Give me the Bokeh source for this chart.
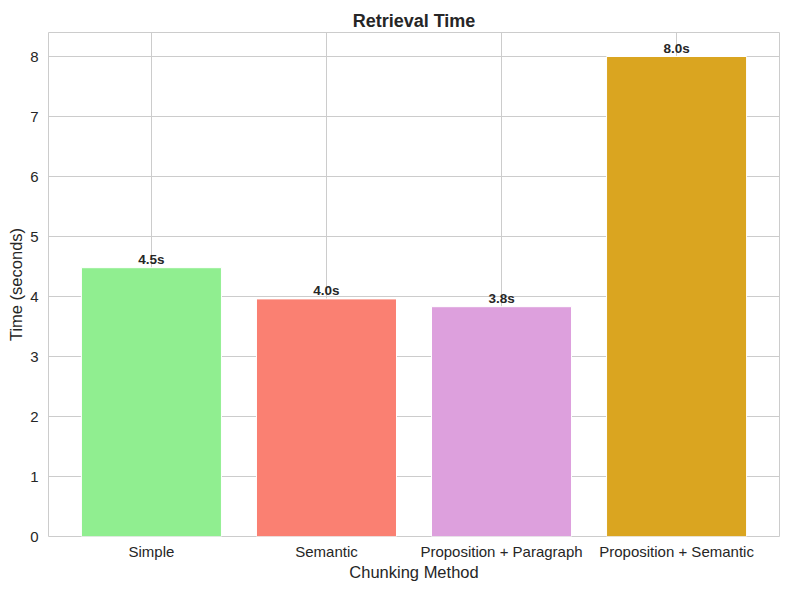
from bokeh.plotting import figure
from bokeh.models import FactorRange, Range1d, ColumnDataSource, FixedTicker
from bokeh.core.properties import value
from bokeh.embed import file_html
from bokeh.resources import INLINE

methods = ["Simple", "Semantic", "Proposition + Paragraph", "Proposition + Semantic"]
times = [4.48, 3.96, 3.83, 8.0]
colors = ["lightgreen", "salmon", "plum", "goldenrod"]
y_ticks = [0, 1, 2, 3, 4, 5, 6, 7, 8]

labels = [f"{t:.1f}s" for t in times]
src = ColumnDataSource(dict(x=methods, top=times, color=colors, label=labels))

FONT = "Liberation Sans"
DARK = "#262626"
GRID = "#cccccc"

p = figure(
    x_range=FactorRange(factors=methods, range_padding=0.088, range_padding_units="absolute"),
    y_range=Range1d(0, 8.4),
    width=790, height=590,
    output_backend="svg", toolbar_location=None,
    min_border_left=48, min_border_right=11, min_border_top=32, min_border_bottom=54,
    title="Retrieval Time",
)

p.vbar(x="x", top="top", width=0.8, source=src, fill_color="color",
       line_color="white", line_width=1)

p.text(x="x", y="top", text="label", source=src, text_align="center",
       text_baseline="bottom", y_offset=-1, text_font=value(FONT),
       text_font_size="13.5px", text_font_style="bold", text_color=DARK)

p.title.text_font = FONT
p.title.text_font_size = "18px"
p.title.text_font_style = "bold"
p.title.text_color = DARK
p.title.align = "center"
p.title.standoff = 4

p.outline_line_color = GRID
p.outline_line_width = 1
p.background_fill_color = "white"
p.border_fill_color = "white"

p.xgrid.grid_line_color = GRID
p.ygrid.grid_line_color = GRID
p.xgrid.grid_line_width = 1
p.ygrid.grid_line_width = 1

p.yaxis.ticker = FixedTicker(ticks=y_ticks)

for ax in (p.xaxis[0], p.yaxis[0]):
    ax.axis_line_color = None
    ax.major_tick_line_color = None
    ax.minor_tick_line_color = None
    ax.major_tick_out = 0
    ax.major_tick_in = 0
    ax.minor_tick_out = 0
    ax.minor_tick_in = 0
    ax.major_label_text_font = FONT
    ax.major_label_text_font_size = "15px"
    ax.major_label_text_color = DARK
    ax.axis_label_text_font = FONT
    ax.axis_label_text_font_size = "16.5px"
    ax.axis_label_text_font_style = "normal"
    ax.axis_label_text_color = DARK

p.xaxis.axis_label = "Chunking Method"
p.yaxis.axis_label = "Time (seconds)"
p.xaxis.major_label_standoff = 6
p.xaxis.axis_label_standoff = 0
p.yaxis.major_label_standoff = 10
p.yaxis.axis_label_standoff = 2

open("out.html", "w").write(file_html(p, INLINE))
